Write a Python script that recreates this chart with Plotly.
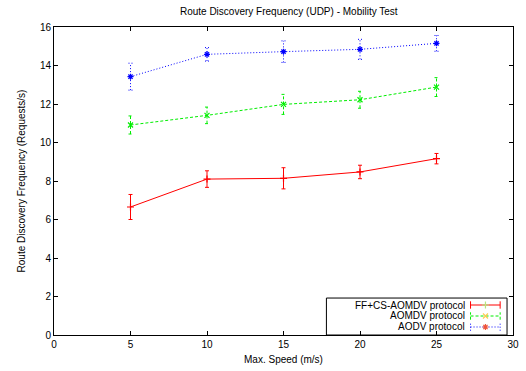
import plotly.graph_objects as go

# Max. speed values (m/s)
speeds = [5, 10, 15, 20, 25]

# Route discovery frequency (requests/s) with error half-widths
ffcs_mean = [6.65, 8.10, 8.14, 8.47, 9.16]
ffcs_err = [0.65, 0.43, 0.55, 0.35, 0.27]

aomdv_mean = [10.91, 11.41, 11.98, 12.22, 12.88]
aomdv_err = [0.47, 0.43, 0.52, 0.44, 0.49]

aodv_mean = [13.42, 14.58, 14.72, 14.84, 15.15]
aodv_err = [0.70, 0.35, 0.56, 0.52, 0.41]

series_names = ["FF+CS-AOMDV protocol", "AOMDV protocol", "AODV protocol"]
series_colors = ["#ff0000", "#00ee00", "#0000ff"]
series_dash = ["solid", "3px,2px", "1px,2px"]
series_symbols = ["cross-thin-open", "x-thin-open", "asterisk-open"]

x_ticks = [0, 5, 10, 15, 20, 25, 30]
y_ticks = [0, 2, 4, 6, 8, 10, 12, 14, 16]

FONT = "Liberation Sans, Arial, Helvetica, sans-serif"
CAP = 0.13  # half-width of error-bar caps in x units

fig = go.Figure()


def error_path(xs, ys, es):
    px, py = [], []
    for x, y, e in zip(xs, ys, es):
        # vertical bar
        px += [x, x, None]
        py += [y - e, y + e, None]
        # caps
        px += [x - CAP, x + CAP, None, x - CAP, x + CAP, None]
        py += [y - e, y - e, None, y + e, y + e, None]
    return px, py


all_means = [ffcs_mean, aomdv_mean, aodv_mean]
all_errs = [ffcs_err, aomdv_err, aodv_err]

for name, m, e, c, d, s in zip(series_names, all_means, all_errs,
                               series_colors, series_dash, series_symbols):
    ex, ey = error_path(speeds, m, e)
    fig.add_trace(go.Scatter(x=ex, y=ey, mode="lines",
                             line=dict(color=c, width=1, dash=d),
                             hoverinfo="skip", showlegend=False))
    fig.add_trace(go.Scatter(x=speeds, y=m, mode="lines+markers", name=name,
                             line=dict(color=c, width=1, dash=d),
                             marker=dict(symbol=s, size=5,
                                         line=dict(color=c, width=1.2)),
                             showlegend=False))

# Key in the lower-right corner (text right-aligned, sample on the right)
key_y = [0.0974, 0.0617, 0.026]
key_text_x = 0.899
key_x0, key_x1, key_xm = 0.9075, 0.972, 0.94
cap_h = 0.012

for name, c, d, s, ky in zip(series_names, series_colors, series_dash,
                             series_symbols, key_y):
    fig.add_trace(go.Scatter(
        x=[key_x0, key_x1, None, key_x0, key_x0, None, key_x1, key_x1],
        y=[ky, ky, None, ky - cap_h, ky + cap_h, None, ky - cap_h, ky + cap_h],
        mode="lines", line=dict(color=c, width=1, dash=d),
        xaxis="x2", yaxis="y2", hoverinfo="skip", showlegend=False))
    fig.add_trace(go.Scatter(
        x=[key_xm], y=[ky], mode="markers",
        marker=dict(symbol=s, size=5, line=dict(color=c, width=1.2)),
        xaxis="x2", yaxis="y2", hoverinfo="skip", showlegend=False))
    fig.add_annotation(x=key_text_x, y=ky, xref="paper", yref="paper",
                       text=name, showarrow=False, xanchor="right",
                       yanchor="middle",
                       font=dict(family=FONT, size=10, color="#000"))

fig.add_shape(type="rect", xref="paper", yref="paper",
              x0=0.5935, x1=0.987, y0=0.0, y1=0.12,
              line=dict(color="#000", width=1), fillcolor="white",
              layer="below")

axis_common = dict(
    showgrid=False, zeroline=False, showline=True, linecolor="#000",
    linewidth=1, mirror="allticks", ticks="inside", ticklen=4,
    tickcolor="#000", tickwidth=1,
    tickfont=dict(family=FONT, size=10, color="#000"),
)

fig.update_layout(
    width=526, height=371,
    margin=dict(l=54, r=7, t=27, b=36),
    paper_bgcolor="white", plot_bgcolor="white",
    font=dict(family=FONT, size=10, color="#000"),
    title=dict(text="Route Discovery Frequency (UDP) - Mobility Test",
               x=0.549, xanchor="center", y=0.968, yanchor="middle",
               font=dict(family=FONT, size=10, color="#000")),
    xaxis=dict(range=[0, 30], tickvals=x_ticks,
               title=dict(text="Max. Speed (m/s)", standoff=6,
                          font=dict(family=FONT, size=10, color="#000")),
               **axis_common),
    yaxis=dict(range=[0, 16], tickvals=y_ticks,
               title=dict(text="Route Discovery Frequency (Requests/s)",
                          standoff=12,
                          font=dict(family=FONT, size=10, color="#000")),
               **axis_common),
    xaxis2=dict(range=[0, 1], overlaying="x", visible=False),
    yaxis2=dict(range=[0, 1], overlaying="y", visible=False),
    showlegend=False,
)

fig.write_html("out.html")
